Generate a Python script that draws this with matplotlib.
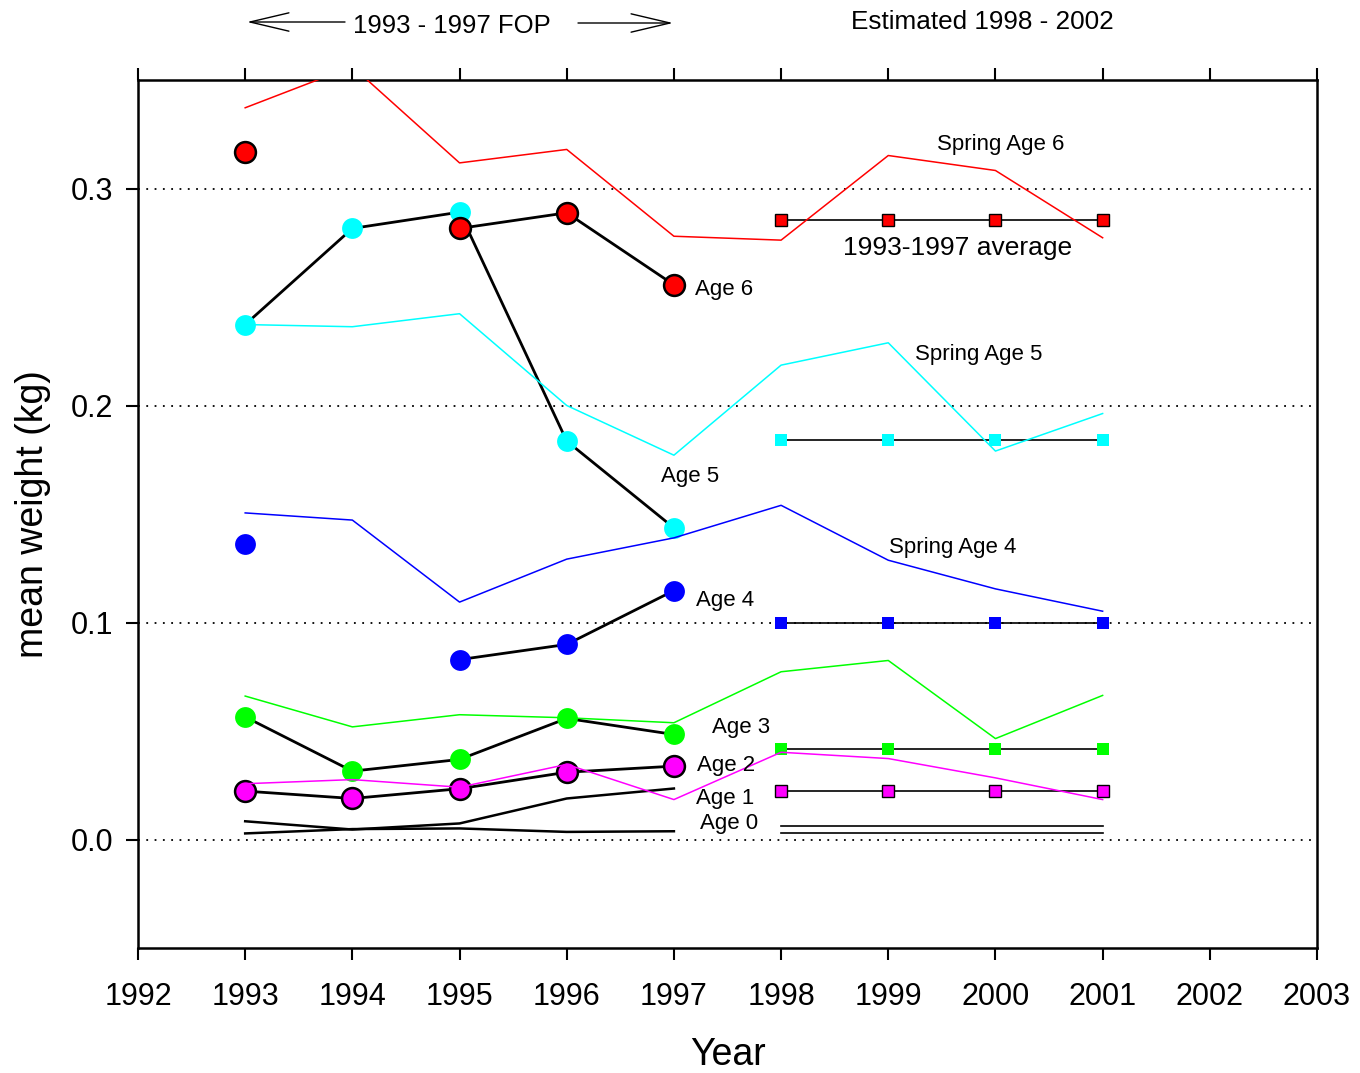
import numpy as np
import matplotlib
matplotlib.use("Agg")
import matplotlib.pyplot as plt

plt.rcParams['font.family'] = ['Liberation Sans', 'DejaVu Sans']

years_obs = [1993, 1994, 1995, 1996, 1997]
years_est = [1998, 1999, 2000, 2001]
years_spring = [1993, 1994, 1995, 1996, 1997, 1998, 1999, 2000, 2001]

nan = np.nan
# observed mean weight at age (FOP) 1993-1997
age6 = [0.3166, nan, 0.2816, 0.2888, 0.2556]
age5 = [0.2373, 0.2816, 0.2891, 0.1836, 0.1436]
age4 = [0.1363, nan, 0.0829, 0.0899, 0.1147]
age3 = [0.0565, 0.0315, 0.0369, 0.0558, 0.0484]
age2 = [0.0223, 0.0189, 0.0234, 0.0310, 0.0338]
age1 = [0.0084, 0.0046, 0.0074, 0.0189, 0.0235]
age0 = [0.0028, 0.0048, 0.0051, 0.0035, 0.0038]

# spring survey mean weights 1993-2001
spring6 = [0.3372, 0.3562, 0.3118, 0.3180, 0.2780, 0.2762, 0.3152, 0.3083, 0.2773]
spring5 = [0.2373, 0.2363, 0.2423, 0.2000, 0.1771, 0.2186, 0.2289, 0.1790, 0.1963]
spring4 = [0.1505, 0.1472, 0.1094, 0.1292, 0.1390, 0.1540, 0.1287, 0.1155, 0.1052]
spring3 = [0.0661, 0.0519, 0.0575, 0.0561, 0.0538, 0.0773, 0.0825, 0.0465, 0.0664]
spring2 = [0.0257, 0.0276, 0.0241, 0.0346, 0.0184, 0.0402, 0.0373, 0.0284, 0.0184]

# 1993-1997 averages used for 1998-2001
avg6 = [0.2857] * 4
avg5 = [0.1839] * 4
avg4 = [0.0999] * 4
avg3 = [0.0415] * 4
avg2 = [0.0223] * 4
avg1 = [0.0061] * 4
avg0 = [0.0028] * 4

RED, CYAN, BLUE, GREEN, MAG = '#FF0000', '#00FFFF', '#0000FF', '#00FF00', '#FF00FF'

fig = plt.figure(figsize=(13.6, 10.73), dpi=100)
ax = fig.add_axes([138/1360, 1 - 948/1073, (1317-138)/1360, (948-80)/1073])

# grid lines
for g in [0.0, 0.1, 0.2, 0.3]:
    ax.axhline(g, color='black', lw=1.3, dashes=[1.0, 3.6], zorder=1)

# spring lines
for s, c in [(spring6, RED), (spring5, CYAN), (spring4, BLUE), (spring3, GREEN), (spring2, MAG)]:
    ax.plot(years_spring, s, color=c, lw=1.1, zorder=3)

# observed black lines
ax.plot(years_obs, age1, color='black', lw=1.8, zorder=2)
ax.plot(years_obs, age0, color='black', lw=1.8, zorder=2)
ax.plot(years_obs, age2, color='black', lw=2.0, zorder=2,
        marker='o', ms=15, mfc=MAG, mec='black', mew=1.8)
ax.plot(years_obs, age3, color='black', lw=2.0, zorder=2,
        marker='o', ms=15, mfc=GREEN, mec=GREEN, mew=0)
ax.plot(years_obs, age4, color='black', lw=2.0, zorder=2,
        marker='o', ms=15, mfc=BLUE, mec=BLUE, mew=0)
ax.plot(years_obs, age5, color='black', lw=2.0, zorder=2,
        marker='o', ms=15, mfc=CYAN, mec=CYAN, mew=0)
ax.plot(years_obs, age6, color='black', lw=2.0, zorder=4,
        marker='o', ms=15, mfc=RED, mec='black', mew=1.8)

# averages 1998-2001
ax.plot(years_est, avg6, color='black', lw=1.2, zorder=2,
        marker='s', ms=9, mfc=RED, mec='black', mew=1.0)
ax.plot(years_est, avg5, color='black', lw=1.2, zorder=2,
        marker='s', ms=9, mfc=CYAN, mec=CYAN, mew=0)
ax.plot(years_est, avg4, color='black', lw=1.2, zorder=2,
        marker='s', ms=9, mfc=BLUE, mec=BLUE, mew=0)
ax.plot(years_est, avg3, color='black', lw=1.2, zorder=2,
        marker='s', ms=9, mfc=GREEN, mec=GREEN, mew=0)
ax.plot(years_est, avg2, color='black', lw=1.2, zorder=2,
        marker='s', ms=9, mfc=MAG, mec='black', mew=1.0)
ax.plot(years_est, avg1, color='black', lw=1.2, zorder=2)
ax.plot(years_est, avg0, color='black', lw=1.2, zorder=2)

ax.set_xlim(1992, 2003)
ax.set_ylim(-0.05, 0.35)
ax.set_xticks(range(1992, 2004))
ax.set_yticks([0.0, 0.1, 0.2, 0.3])
ax.set_yticklabels(['0.0', '0.1', '0.2', '0.3'])
ax.tick_params(axis='x', which='both', direction='out', length=8.6, width=1.5,
               top=True, labeltop=False, labelsize=22, pad=16)
ax.tick_params(axis='y', direction='out', length=8.6, width=1.5,
               right=False, labelsize=22, pad=9)
for sp in ax.spines.values():
    sp.set_linewidth(1.8)

ax.set_xlabel('Year', fontsize=27, labelpad=18)
ax.set_ylabel('mean weight (kg)', fontsize=27, labelpad=14)

# labels inside
tk = dict(fontsize=16, va='center', ha='left', zorder=6)
ax.text(1997.196, 0.2535, 'Age 6', **tk)
ax.text(1996.88, 0.1673, 'Age 5', **tk)
ax.text(1997.21, 0.1101, 'Age 4', **tk)
ax.text(1997.355, 0.0516, 'Age 3', **tk)
ax.text(1997.22, 0.0341, 'Age 2', **tk)
ax.text(1997.21, 0.0189, 'Age 1', **tk)
ax.text(1997.24, 0.0074, 'Age 0', **tk)
ax.text(1999.45, 0.3203, 'Spring Age 6', **tk)
ax.text(1999.25, 0.2235, 'Spring Age 5', **tk)
ax.text(1999.01, 0.1346, 'Spring Age 4', **tk)
ax.text(1998.58, 0.2728, '1993-1997 average', fontsize=19, va='center', ha='left', zorder=6)

# header annotations (figure coordinates)
def fx(px):
    return px / 1360
def fy(py):
    return 1 - py / 1073

fig.text(fx(452), fy(26), '1993 - 1997 FOP', fontsize=18.5, ha='center', va='center')
fig.text(fx(982), fy(22), 'Estimated 1998 - 2002', fontsize=18.8, ha='center', va='center')
arr = dict(arrowstyle='->,head_length=1.4,head_width=0.33', color='black', lw=1.0,
           shrinkA=0, shrinkB=0, mutation_scale=20)
ax.annotate('', xy=(fx(247), fy(22)), xytext=(fx(345), fy(22)),
            xycoords='figure fraction', textcoords='figure fraction', arrowprops=arr)
ax.annotate('', xy=(fx(673), fy(23)), xytext=(fx(578), fy(23)),
            xycoords='figure fraction', textcoords='figure fraction', arrowprops=arr)

fig.savefig('out.png', dpi=100)
